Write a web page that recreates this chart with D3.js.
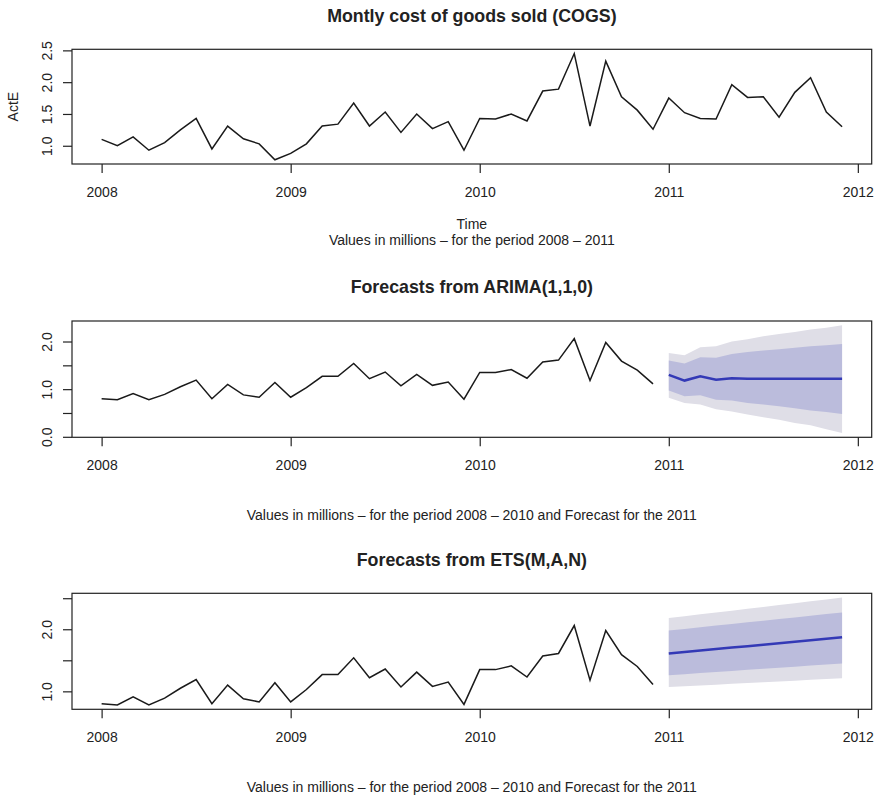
<!DOCTYPE html>
<html>
<head>
<meta charset="utf-8">
<script src="https://cdn.jsdelivr.net/npm/d3@7"></script>
<style>
  body { margin: 0; background: #fff; }
  text { font-family: "Liberation Sans", Arial, sans-serif; fill: #222; }
</style>
</head>
<body>
<div id="chart"></div>
<script>
const w = 877;
const h = 796;
const left = 72;
const right = 871.7;

const startYear = 2008;
const forecastYear = 2011;
const yearTicks = [2008, 2009, 2010, 2011, 2012];

// monthly COGS, Jan 2008 - Dec 2011 (top panel)
const cogs = [
  1.10, 1.00, 1.14, 0.93, 1.05, 1.25, 1.43, 0.95, 1.31, 1.11, 1.03, 0.78,
  0.88, 1.03, 1.31, 1.34, 1.67, 1.31, 1.53, 1.21, 1.50, 1.27, 1.38, 0.93,
  1.43, 1.42, 1.50, 1.39, 1.86, 1.89, 2.45, 1.31, 2.33, 1.77, 1.56, 1.26,
  1.75, 1.52, 1.43, 1.42, 1.96, 1.76, 1.77, 1.45, 1.84, 2.07, 1.53, 1.30
];

// series used for the forecasts, Jan 2008 - Dec 2010
const history = [
  0.80, 0.78, 0.91, 0.78, 0.89, 1.05, 1.19, 0.80, 1.10, 0.88, 0.83, 1.14,
  0.83, 1.03, 1.27, 1.27, 1.54, 1.22, 1.36, 1.07, 1.31, 1.08, 1.15, 0.79,
  1.35, 1.35, 1.41, 1.23, 1.57, 1.61, 2.06, 1.18, 1.98, 1.59, 1.40, 1.11
];

// ARIMA(1,1,0) forecast for 2011
const arimaMean = [1.30, 1.18, 1.27, 1.20, 1.23, 1.22, 1.22, 1.22, 1.22, 1.22, 1.22, 1.22];
const arimaLo80 = [0.97, 0.85, 0.87, 0.78, 0.76, 0.71, 0.68, 0.64, 0.60, 0.55, 0.52, 0.48];
const arimaHi80 = [1.60, 1.54, 1.67, 1.66, 1.74, 1.78, 1.81, 1.84, 1.87, 1.90, 1.92, 1.95];
const arimaLo95 = [0.82, 0.71, 0.68, 0.58, 0.53, 0.47, 0.41, 0.36, 0.29, 0.24, 0.16, 0.08];
const arimaHi95 = [1.76, 1.71, 1.88, 1.90, 2.00, 2.05, 2.11, 2.16, 2.20, 2.25, 2.29, 2.34];

// ETS(M,A,N) forecast for 2011
const etsMean = [1.610, 1.634, 1.657, 1.681, 1.705, 1.728, 1.752, 1.776, 1.799, 1.823, 1.847, 1.870];
const etsLo80 = [1.260, 1.277, 1.295, 1.312, 1.329, 1.347, 1.364, 1.381, 1.398, 1.416, 1.433, 1.450];
const etsHi80 = [1.980, 2.006, 2.033, 2.059, 2.085, 2.112, 2.138, 2.164, 2.191, 2.217, 2.244, 2.270];
const etsLo95 = [1.070, 1.083, 1.095, 1.108, 1.121, 1.134, 1.146, 1.159, 1.172, 1.185, 1.197, 1.210];
const etsHi95 = [2.180, 2.210, 2.240, 2.270, 2.300, 2.330, 2.360, 2.390, 2.420, 2.450, 2.480, 2.510];

const topTicks = [1.0, 1.5, 2.0, 2.5];
const topLabels = [1.0, 1.5, 2.0, 2.5];
const arimaTicks = [0.0, 0.5, 1.0, 1.5, 2.0];
const arimaLabels = [0.0, 1.0, 2.0];
const etsTicks = [1.0, 1.5, 2.0, 2.5];
const etsLabels = [1.0, 2.0];

const svg = d3.select("#chart")
  .append("svg")
  .attr("width", w)
  .attr("height", h)
  .style("background", "#fff");

const pad = ([a, b]) => [a - (b - a) * 0.04, b + (b - a) * 0.04];

const x = d3.scaleLinear()
  .domain(pad([startYear, startYear + 47 / 12]))
  .range([left, right]);

function drawPanel(p) {
  const all = [p.series].concat(p.fc ? [p.fc.lo95, p.fc.hi95, p.fc.mean] : []).flat();
  const y = d3.scaleLinear()
    .domain(pad(d3.extent(all)))
    .range([p.bottom, p.top]);

  const g = svg.append("g");

  if (p.fc) {
    const fx = (d, i) => x(forecastYear + i / 12);
    const band = (lo, hi) => d3.area().x((d, i) => fx(d, i)).y0((d, i) => y(lo[i])).y1((d, i) => y(hi[i]));
    g.append("path").datum(p.fc.lo95).attr("d", band(p.fc.lo95, p.fc.hi95)).attr("fill", "#dfdee7");
    g.append("path").datum(p.fc.lo80).attr("d", band(p.fc.lo80, p.fc.hi80)).attr("fill", "#bbbcdc");
    g.append("path").datum(p.fc.mean)
      .attr("d", d3.line().x(fx).y(d => y(d)))
      .attr("fill", "none").attr("stroke", "#3339b6").attr("stroke-width", 2.5);
  }

  g.append("path").datum(p.series)
    .attr("d", d3.line().x((d, i) => x(startYear + i / 12)).y(d => y(d)))
    .attr("fill", "none").attr("stroke", "#1a1a1a").attr("stroke-width", 1.5)
    .attr("stroke-linejoin", "miter");

  // x axis
  g.append("g")
    .attr("transform", "translate(0," + p.bottom + ")")
    .call(d3.axisBottom(x).tickValues(yearTicks).tickFormat(d3.format("d")).tickSize(9))
    .call(a => a.select(".domain").remove())
    .call(a => a.selectAll("line").attr("stroke", "#222").attr("stroke-width", 1.2))
    .call(a => a.selectAll("text").attr("y", 32.5).attr("dy", null))
    .attr("font-family", null).attr("font-size", 14);

  // y axis
  g.append("g")
    .attr("transform", "translate(" + left + ",0)")
    .call(d3.axisLeft(y).tickValues(p.yTicks).tickSize(9)
      .tickFormat(d => p.yLabels.includes(d) ? d3.format(".1f")(d) : ""))
    .call(a => a.select(".domain").remove())
    .call(a => a.selectAll("line").attr("stroke", "#222").attr("stroke-width", 1.2))
    .call(a => a.selectAll("text")
      .attr("transform", "rotate(-90)")
      .attr("x", 0).attr("y", -20).attr("dy", null)
      .attr("text-anchor", "middle"))
    .attr("font-family", null).attr("font-size", 14);

  // box
  g.append("rect")
    .attr("x", left).attr("y", p.top)
    .attr("width", right - left).attr("height", p.bottom - p.top)
    .attr("fill", "none").attr("stroke", "#222").attr("stroke-width", 1.2);

  const cx = (left + right) / 2;
  g.append("text").attr("x", cx).attr("y", p.titleY)
    .attr("text-anchor", "middle").attr("font-weight", "bold").attr("font-size", 17.8)
    .text(p.title);
  g.append("text").attr("x", cx).attr("y", p.subY)
    .attr("text-anchor", "middle").attr("font-size", 14)
    .text(p.sub);

  if (p.xLabel) {
    g.append("text").attr("x", cx).attr("y", p.xLabelY)
      .attr("text-anchor", "middle").attr("font-size", 14).text(p.xLabel);
  }
  if (p.yLabel) {
    g.append("text")
      .attr("transform", "translate(18," + (p.top + p.bottom) / 2 + ") rotate(-90)")
      .attr("text-anchor", "middle").attr("font-size", 14).text(p.yLabel);
  }
}

drawPanel({
  top: 49.3, bottom: 164, titleY: 22, subY: 245, xLabelY: 229,
  title: "Montly cost of goods sold (COGS)",
  sub: "Values in millions \u2013 for the period 2008 \u2013 2011",
  xLabel: "Time", yLabel: "ActE",
  series: cogs, yTicks: topTicks, yLabels: topLabels
});

drawPanel({
  top: 321, bottom: 437.3, titleY: 293.3, subY: 520,
  title: "Forecasts from ARIMA(1,1,0)",
  sub: "Values in millions \u2013 for the period 2008 \u2013 2010 and Forecast for the 2011",
  series: history, yTicks: arimaTicks, yLabels: arimaLabels,
  fc: { mean: arimaMean, lo80: arimaLo80, hi80: arimaHi80, lo95: arimaLo95, hi95: arimaHi95 }
});

drawPanel({
  top: 593.3, bottom: 709.3, titleY: 566, subY: 792,
  title: "Forecasts from ETS(M,A,N)",
  sub: "Values in millions \u2013 for the period 2008 \u2013 2010 and Forecast for the 2011",
  series: history, yTicks: etsTicks, yLabels: etsLabels,
  fc: { mean: etsMean, lo80: etsLo80, hi80: etsHi80, lo95: etsLo95, hi95: etsHi95 }
});
</script>
</body>
</html>
